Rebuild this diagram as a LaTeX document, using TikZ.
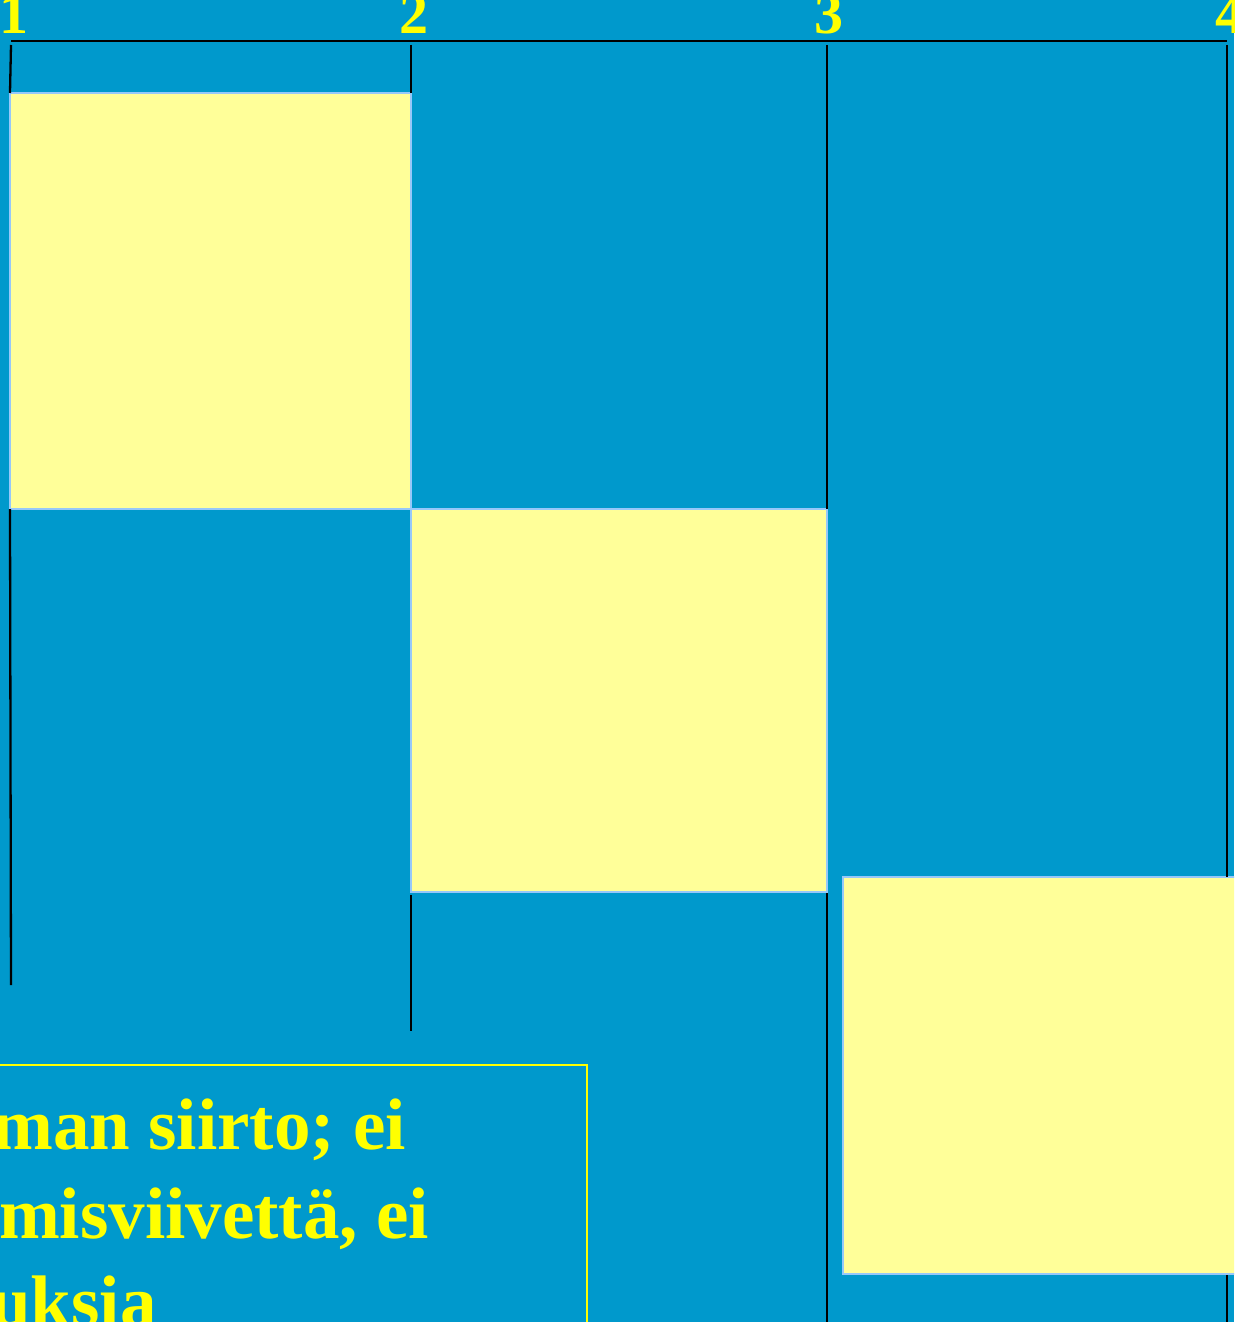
\documentclass[tikz,border=0pt]{standalone}
\usepackage{fontspec}
\setmainfont{Liberation Serif}
\definecolor{bg}{RGB}{0,153,204}
\definecolor{cellfill}{RGB}{255,255,153}
\definecolor{cellline}{RGB}{150,200,250}
\definecolor{txt}{RGB}{255,255,0}
\tikzset{
  cell/.style={draw=cellline, line width=2.5pt, fill=cellfill, anchor=north west, inner sep=0pt, outer sep=0pt},
  tick/.style={draw=black, line width=2.3pt},
  num/.style={text=txt, font=\fontsize{58}{64}\selectfont\bfseries, inner sep=0pt, anchor=base},
  body/.style={text=txt, font=\fontsize{73}{88}\selectfont\bfseries, inner sep=0pt, anchor=base east},
}
\begin{document}
\begin{tikzpicture}[x=1pt,y=-1pt]
\useasboundingbox (0,0) rectangle (1234,1322);
\clip (0,0) rectangle (1234,1322);
\fill[bg] (0,0) rectangle (1234,1322);
% axis
\coordinate (a1) at (11,41);
\coordinate (a4) at (1227,41);
\draw[tick] (a1) -- (a4);
\node[num] (n1) at (14,34) {1};
\node[num] (n2) at (414,34) {2};
\node[num] (n3) at (829,34) {3};
\node[num] (n4) at (1230,34) {4};
% cells
\node[cell, minimum width=401pt, minimum height=416pt] (c1) at (10,93) {};
\node[cell, minimum width=416pt, minimum height=383pt] (c2) at (411,509) {};
\node[cell, minimum width=420pt, minimum height=397pt] (c3) at (843,877) {};
% vertical lines
\draw[tick] (11,45) -- (c1.north west);
\draw[tick] (c1.south west) -- (11,985);
\draw[tick] (411,45) -- (c1.north east);
\draw[tick] (c2.south west) ++(0,3) -- (411,1031);
\draw[tick] (827,45) -- (c2.north east);
\draw[tick] (c2.south east) ++(0,1) -- (827,1322);
\draw[tick] (1227,45) -- (1227,877);
\draw[tick] (1227,1275) -- (1227,1322);
% text box
\draw[txt, line width=2.3pt] (-20,1065) -- (587,1065) -- (587,1340);
\node[body] (t1) at (406,1149) {man siirto; ei};
\node[body] (t2) at (429,1238) {misviivettä, ei};
\node[body] (t3) at (157,1326) {uksia};
\end{tikzpicture}
\end{document}
